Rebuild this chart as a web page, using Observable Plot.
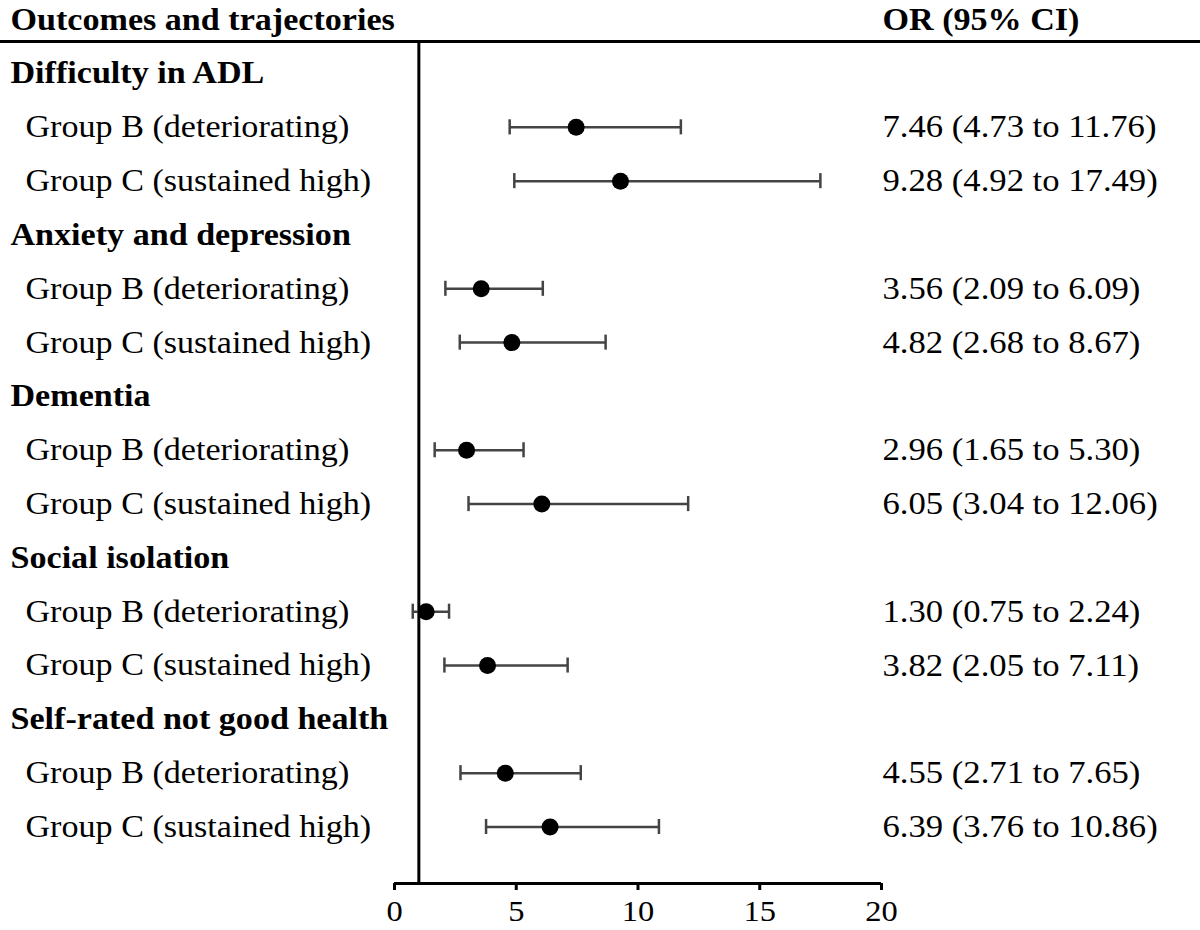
<!DOCTYPE html>
<html><head><meta charset="utf-8">
<script src="https://cdn.jsdelivr.net/npm/d3@7"></script>
<script src="https://cdn.jsdelivr.net/npm/@observablehq/plot@0.6"></script>
<style>body{margin:0;background:#fff}</style>
</head><body><div id="chart"></div>
<script>
const outcomes = ["Difficulty in ADL", "Anxiety and depression", "Dementia", "Social isolation", "Self-rated not good health"];
const groups = ["Group B (deteriorating)", "Group C (sustained high)"];
const orValues = [7.46, 9.28, 3.56, 4.82, 2.96, 6.05, 1.30, 3.82, 4.55, 6.39];
const ciLow = [4.73, 4.92, 2.09, 2.68, 1.65, 3.04, 0.75, 2.05, 2.71, 3.76];
const ciHigh = [11.76, 17.49, 6.09, 8.67, 5.30, 12.06, 2.24, 7.11, 7.65, 10.86];
const xTicks = [0, 5, 10, 15, 20];
const headers = ["Outcomes and trajectories", "OR (95% CI)"];
const refLine = 1;

// build tables
const sectionRows = outcomes.map((o, k) => ({row: 3 * k, label: o}));
const groupRows = [];
outcomes.forEach((o, k) => {
  groups.forEach((g, j) => {
    const i = 2 * k + j;
    groupRows.push({
      row: 3 * k + 1 + j, label: g,
      or: orValues[i], lo: ciLow[i], hi: ciHigh[i],
      txt: `${orValues[i].toFixed(2)} (${ciLow[i].toFixed(2)} to ${ciHigh[i].toFixed(2)})`
    });
  });
});

const W = 1200, H = 930, mL = 394, mR = 319, mT = 41, mB = 47;
const yDomain = [-0.595, 15.05];
const xDomain = [0, 20];
const unit = (W - mL - mR) / (xDomain[1] - xDomain[0]);
const unitY = (H - mT - mB) / (yDomain[1] - yDomain[0]);
const xLeftEdge = xDomain[0] - mL / unit;
const xRightEdge = xDomain[1] + mR / unit;
const cap = 0.14;
const tickLen = 7 / unitY;
const font = "'Liberation Serif', 'Times New Roman', serif";

const plot = Plot.plot({
  width: W, height: H,
  marginLeft: mL, marginRight: mR, marginTop: mT, marginBottom: mB,
  style: {fontFamily: font, color: "#000", background: "#fff", overflow: "visible"},
  x: {domain: xDomain, axis: null},
  y: {domain: yDomain, reverse: true, axis: null},
  marks: [
    Plot.ruleY([yDomain[0]], {x1: xLeftEdge, x2: xRightEdge, stroke: "#000", strokeWidth: 3}),
    Plot.ruleX([refLine], {stroke: "#000", strokeWidth: 3}),
    // x axis: baseline, ticks and tick labels
    Plot.ruleY([yDomain[1]], {x1: xDomain[0], x2: xDomain[1], stroke: "#000", strokeWidth: 3}),
    Plot.ruleX(xTicks, {x: d => d, y1: yDomain[1], y2: yDomain[1] + tickLen, stroke: "#000", strokeWidth: 3, clip: false}),
    Plot.text(xTicks, {x: d => d, text: d => String(d), frameAnchor: "bottom", dy: 37, fontSize: 29.5, fill: "#000"}),
    // confidence intervals and estimates
    Plot.ruleY(groupRows, {y: "row", x1: "lo", x2: "hi", stroke: "#444", strokeWidth: 2.5}),
    Plot.ruleX(groupRows, {x: "lo", y1: d => d.row - cap, y2: d => d.row + cap, stroke: "#444", strokeWidth: 2.5}),
    Plot.ruleX(groupRows, {x: "hi", y1: d => d.row - cap, y2: d => d.row + cap, stroke: "#444", strokeWidth: 2.5}),
    Plot.dot(groupRows, {x: "or", y: "row", r: 8.5, fill: "#000", stroke: null}),
    // labels
    Plot.text(sectionRows, {y: "row", text: "label", frameAnchor: "left", dx: 10 - mL, textAnchor: "start", fontWeight: "bold", fontSize: 31, fill: "#000"}),
    Plot.text(groupRows, {y: "row", text: "label", frameAnchor: "left", dx: 25 - mL, textAnchor: "start", fontSize: 31, fill: "#000"}),
    Plot.text(groupRows, {y: "row", text: "txt", frameAnchor: "right", dx: 1, textAnchor: "start", fontSize: 31.5, fill: "#000"}),
    Plot.text([headers[0]], {y: -1, text: d => d, frameAnchor: "left", dx: 10 - mL, textAnchor: "start", fontWeight: "bold", fontSize: 31, fill: "#000"}),
    Plot.text([headers[1]], {y: -1, text: d => d, frameAnchor: "right", dx: 1, textAnchor: "start", fontWeight: "bold", fontSize: 31, fill: "#000"})
  ]
});

// horizontal stretch of the serif text to match the reference's wide lettering
const SX = 1.1;
plot.querySelectorAll("text").forEach(t => {
  const prev = t.getAttribute("transform") || "";
  const x = parseFloat(t.getAttribute("x") || "0");
  t.setAttribute("transform", `${prev} translate(${x},0) scale(${SX},1) translate(${-x},0)`.trim());
});
document.getElementById("chart").appendChild(plot);
</script>
</body></html>
